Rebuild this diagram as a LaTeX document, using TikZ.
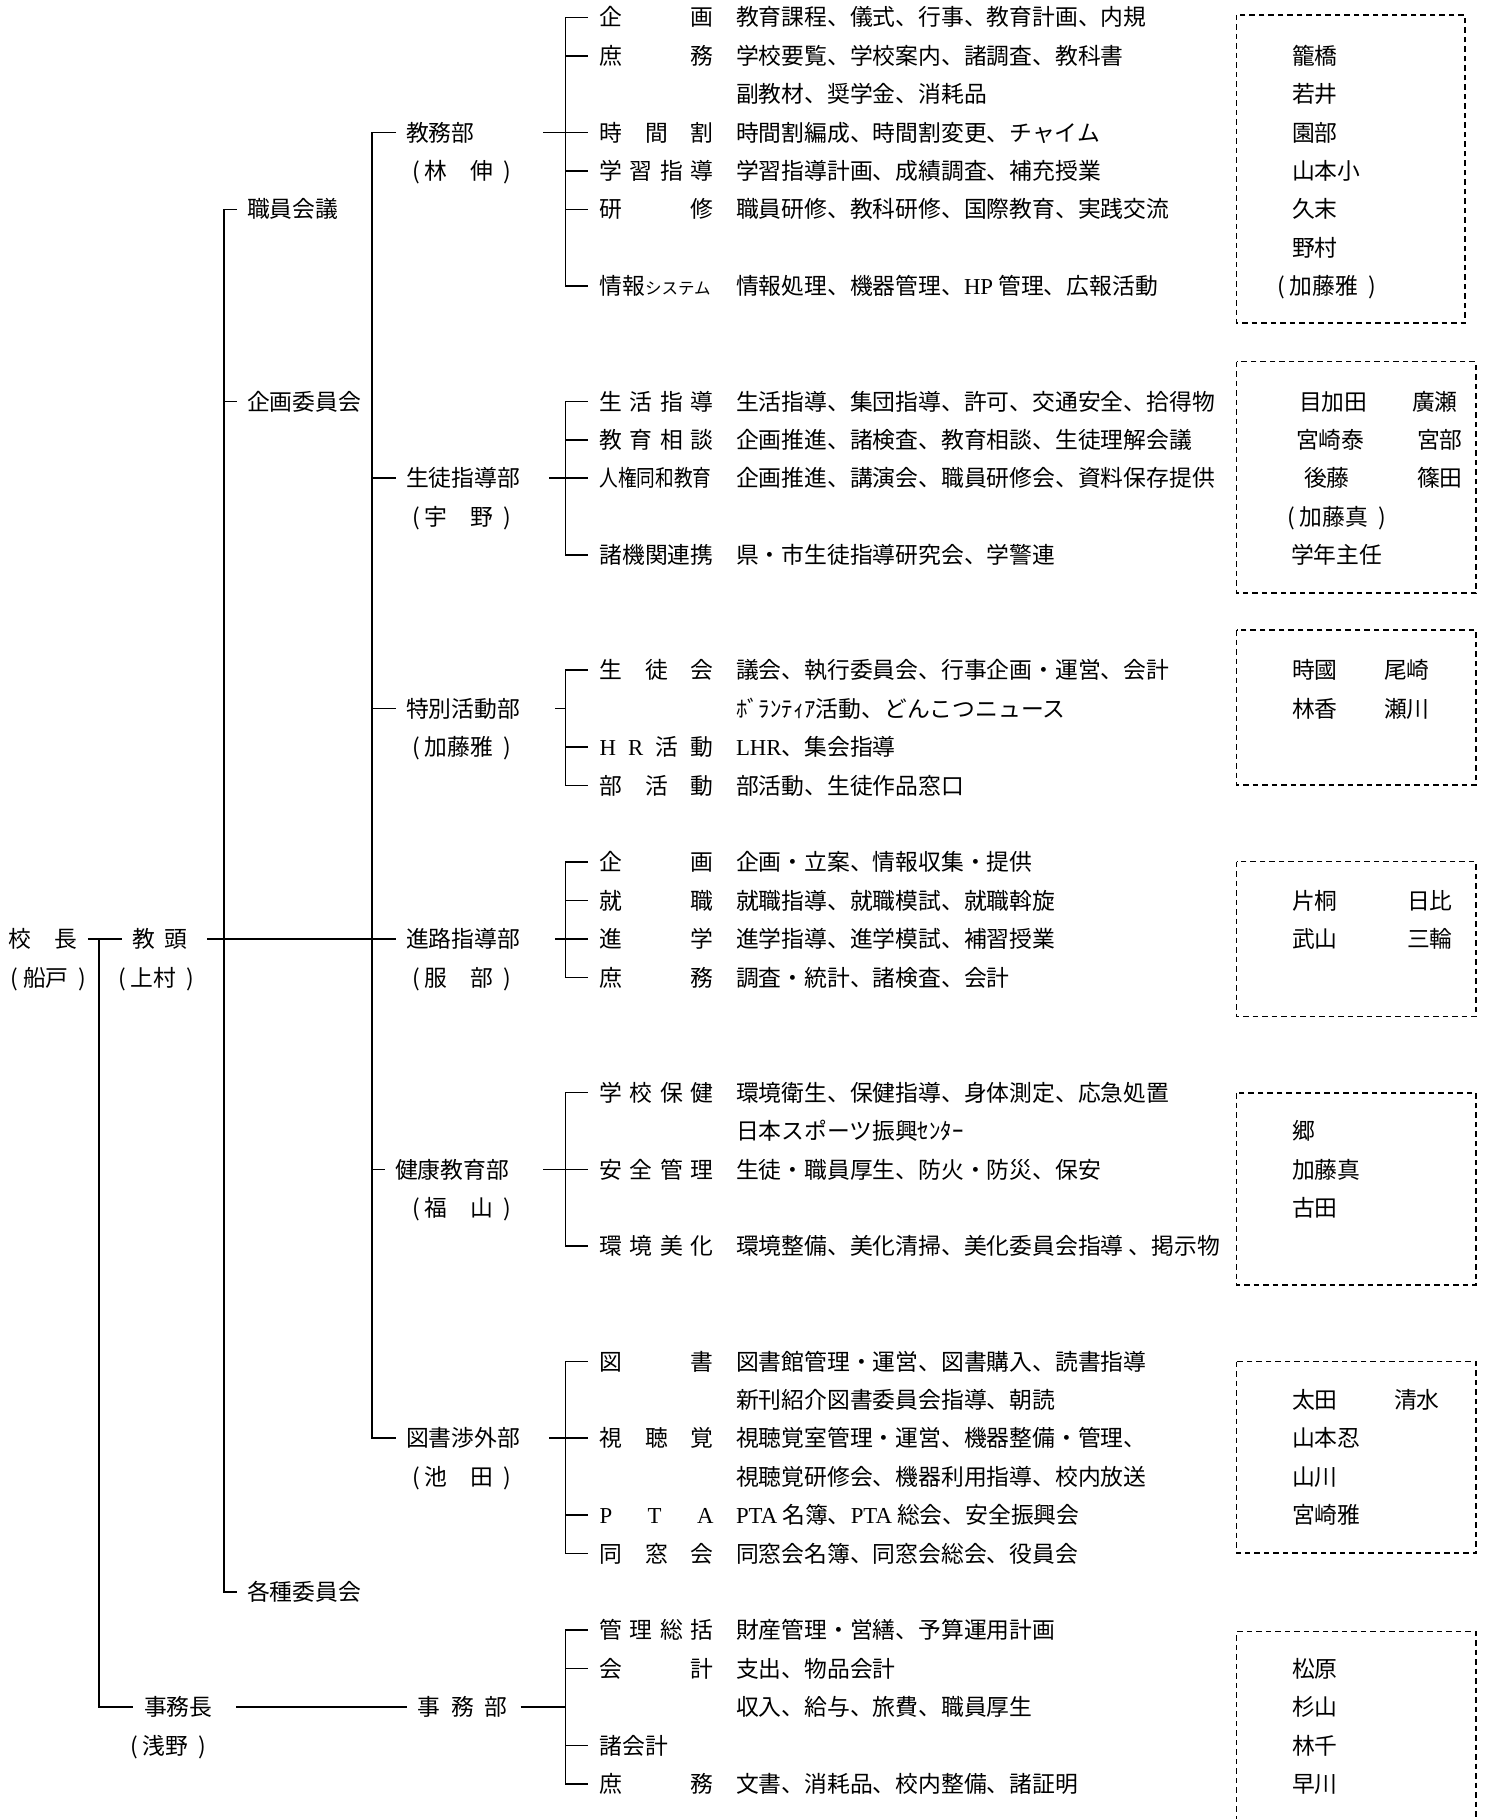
\documentclass[tikz,border=0pt]{standalone}
\usepackage{fontspec}
\usepackage{graphicx}
\setmainfont{Noto Sans CJK JP}
\newfontfamily\lat{Liberation Serif}
\newcommand\Y[1]{17.4+38.4*#1}
\newcommand\pr[1]{(\kern5pt#1\kern10pt)}
\newcommand\spr[2]{\makebox[#1pt][s]{#2}}
\begin{document}
\begin{tikzpicture}[x=1pt,y=-1pt,
  font=\fontsize{22.8}{26}\selectfont,
  every node/.style={inner sep=0pt,outer sep=0pt,anchor=west,text height=20pt,text depth=2.8pt},
  conn/.style={line width=1.7pt},
  dbox/.style={line width=1.5pt,dash pattern=on 5.5pt off 4pt}]
\useasboundingbox (0,0) rectangle (1487,1819);
\fill[white] (0,0) rectangle (1487,1819);

% ---- top levels
\node (kocho) at (8.5,{\Y{24}}) {校　長};
\node (kochop) at (10.5,{\Y{25}}) {\pr{船戸}};
\node (kyoto) at (132,{\Y{24}}) {\spr{55}{教\hfill 頭}};
\node (kyotop) at (118,{\Y{25}}) {\pr{上村}};
\node (jimucho) at (144,{\Y{44}}) {事務長};
\node (jimuchop) at (130,{\Y{45}}) {\pr{浅野}};
\node (shokuin) at (247,{\Y{5}}) {職員会議};
\node (kikaku) at (247,{\Y{10}}) {企画委員会};
\node (kakushu) at (247,{\Y{41}}) {各種委員会};

\node (d1) at (406,{\Y{3}}) {教務部};
\node (d1p) at (412,{\Y{4}}) {\pr{林　伸}};
\node (d2) at (406,{\Y{12}}) {生徒指導部};
\node (d2p) at (412,{\Y{13}}) {\pr{宇　野}};
\node (d3) at (406,{\Y{18}}) {特別活動部};
\node (d3p) at (412,{\Y{19}}) {\pr{加藤雅}};
\node (d4) at (406,{\Y{24}}) {進路指導部};
\node (d4p) at (412,{\Y{25}}) {\pr{服　部}};
\node (d5) at (395,{\Y{30}}) {健康教育部};
\node (d5p) at (412,{\Y{31}}) {\pr{福　山}};
\node (d6) at (406,{\Y{37}}) {図書渉外部};
\node (d6p) at (412,{\Y{38}}) {\pr{池　田}};
\node (jimubu) at (417.7,{\Y{44}}) {\spr{90}{事\hfill 務\hfill 部}};

% ---- sub labels
\node (s00) at (599.5,{\Y{0}}) {\spr{114}{企\hfill 画}};
\node (s01) at (599.5,{\Y{1}}) {\spr{114}{庶\hfill 務}};
\node (s03) at (599.5,{\Y{3}}) {\spr{114}{時\hfill 間\hfill 割}};
\node (s04) at (599.5,{\Y{4}}) {\spr{114}{学\hfill 習\hfill 指\hfill 導}};
\node (s05) at (599.5,{\Y{5}}) {\spr{114}{研\hfill 修}};
\node (s07) at (599.5,{\Y{7}}) {情報{\fontsize{16.5}{18}\selectfont システム}};

\node (s10) at (599.5,{\Y{10}}) {\spr{114}{生\hfill 活\hfill 指\hfill 導}};
\node (s11) at (599.5,{\Y{11}}) {\spr{114}{教\hfill 育\hfill 相\hfill 談}};
\node (s12) at (599.5,{\Y{12}}) {\scalebox{0.82}[1]{人権同和教育}};
\node (s14) at (599.5,{\Y{14}}) {諸機関連携};

\node (s17) at (599.5,{\Y{17}}) {\spr{114}{生\hfill 徒\hfill 会}};
\node (s19) at (599.5,{\Y{19}}) {\spr{114}{{\lat H}\hfill{\lat R}\hfill 活\hfill 動}};
\node (s20) at (599.5,{\Y{20}}) {\spr{114}{部\hfill 活\hfill 動}};

\node (s22) at (599.5,{\Y{22}}) {\spr{114}{企\hfill 画}};
\node (s23) at (599.5,{\Y{23}}) {\spr{114}{就\hfill 職}};
\node (s24) at (599.5,{\Y{24}}) {\spr{114}{進\hfill 学}};
\node (s25) at (599.5,{\Y{25}}) {\spr{114}{庶\hfill 務}};

\node (s28) at (599.5,{\Y{28}}) {\spr{114}{学\hfill 校\hfill 保\hfill 健}};
\node (s30) at (599.5,{\Y{30}}) {\spr{114}{安\hfill 全\hfill 管\hfill 理}};
\node (s32) at (599.5,{\Y{32}}) {\spr{114}{環\hfill 境\hfill 美\hfill 化}};

\node (s35) at (599.5,{\Y{35}}) {\spr{114}{図\hfill 書}};
\node (s37) at (599.5,{\Y{37}}) {\spr{114}{視\hfill 聴\hfill 覚}};
\node (s39) at (599.5,{\Y{39}}) {\spr{114}{\lat P\hfill T\hfill A}};
\node (s40) at (599.5,{\Y{40}}) {\spr{114}{同\hfill 窓\hfill 会}};

\node (s42) at (599.5,{\Y{42}}) {\spr{114}{管\hfill 理\hfill 総\hfill 括}};
\node (s43) at (599.5,{\Y{43}}) {\spr{114}{会\hfill 計}};
\node (s45) at (599.5,{\Y{45}}) {諸会計};
\node (s46) at (599.5,{\Y{46}}) {\spr{114}{庶\hfill 務}};

% ---- descriptions
\node (t00) at (736,{\Y{0}}) {教育課程、儀式、行事、教育計画、内規};
\node (t01) at (736,{\Y{1}}) {学校要覧、学校案内、諸調査、教科書};
\node (t02) at (736,{\Y{2}}) {副教材、奨学金、消耗品};
\node (t03) at (736,{\Y{3}}) {時間割編成、時間割変更、チャイム};
\node (t04) at (736,{\Y{4}}) {学習指導計画、成績調査、補充授業};
\node (t05) at (736,{\Y{5}}) {職員研修、教科研修、国際教育、実践交流};
\node (t07) at (736,{\Y{7}}) {情報処理、機器管理、{\lat HP} 管理、広報活動};
\node (t10) at (736,{\Y{10}}) {生活指導、集団指導、許可、交通安全、拾得物};
\node (t11) at (736,{\Y{11}}) {企画推進、諸検査、教育相談、生徒理解会議};
\node (t12) at (736,{\Y{12}}) {企画推進、講演会、職員研修会、資料保存提供};
\node (t14) at (736,{\Y{14}}) {県・市生徒指導研究会、学警連};
\node (t17) at (736,{\Y{17}}) {議会、執行委員会、行事企画・運営、会計};
\node (t18) at (736,{\Y{18}}) {ﾎﾞﾗﾝﾃｨｱ活動、どんこつニュース};
\node (t19) at (736,{\Y{19}}) {{\lat LHR}、集会指導};
\node (t20) at (736,{\Y{20}}) {部活動、生徒作品窓口};
\node (t22) at (736,{\Y{22}}) {企画・立案、情報収集・提供};
\node (t23) at (736,{\Y{23}}) {就職指導、就職模試、就職斡旋};
\node (t24) at (736,{\Y{24}}) {進学指導、進学模試、補習授業};
\node (t25) at (736,{\Y{25}}) {調査・統計、諸検査、会計};
\node (t28) at (736,{\Y{28}}) {環境衛生、保健指導、身体測定、応急処置};
\node (t29) at (736,{\Y{29}}) {日本スポーツ振興ｾﾝﾀｰ};
\node (t30) at (736,{\Y{30}}) {生徒・職員厚生、防火・防災、保安};
\node (t32) at (736,{\Y{32}}) {環境整備、美化清掃、美化委員会指導 、掲示物};
\node (t35) at (736,{\Y{35}}) {図書館管理・運営、図書購入、読書指導};
\node (t36) at (736,{\Y{36}}) {新刊紹介図書委員会指導、朝読};
\node (t37) at (736,{\Y{37}}) {視聴覚室管理・運営、機器整備・管理、};
\node (t38) at (736,{\Y{38}}) {視聴覚研修会、機器利用指導、校内放送};
\node (t39) at (736,{\Y{39}}) {{\lat PTA} 名簿、{\lat PTA} 総会、安全振興会};
\node (t40) at (736,{\Y{40}}) {同窓会名簿、同窓会総会、役員会};
\node (t42) at (736,{\Y{42}}) {財産管理・営繕、予算運用計画};
\node (t43) at (736,{\Y{43}}) {支出、物品会計};
\node (t44) at (736,{\Y{44}}) {収入、給与、旅費、職員厚生};
\node (t46) at (736,{\Y{46}}) {文書、消耗品、校内整備、諸証明};

% ---- staff boxes
\draw[dbox] (1236.7,15) rectangle (1465,323);
\draw[dbox] (1236.7,361.7) rectangle (1476,593);
\draw[dbox] (1236.7,630) rectangle (1476,785);
\draw[dbox] (1236.7,861.7) rectangle (1476,1016.7);
\draw[dbox] (1236.7,1093) rectangle (1476,1285);
\draw[dbox] (1236.7,1361.7) rectangle (1476,1553);
\draw[dbox] (1236.7,1840) -- (1236.7,1631.7) -- (1476,1631.7) -- (1476,1840);

\node (m01) at (1292,{\Y{1}}) {籠橋};
\node (m02) at (1292,{\Y{2}}) {若井};
\node (m03) at (1292,{\Y{3}}) {園部};
\node (m04) at (1292,{\Y{4}}) {山本小};
\node (m05) at (1292,{\Y{5}}) {久末};
\node (m06) at (1292,{\Y{6}}) {野村};
\node (m07) at (1277,{\Y{7}}) {\pr{加藤雅}};

\node (m10) at (1299,{\Y{10}}) {目加田};
\node (n10) at (1412,{\Y{10}}) {廣瀬};
\node (m11) at (1296,{\Y{11}}) {宮崎泰};
\node (n11) at (1417,{\Y{11}}) {宮部};
\node (m12) at (1304,{\Y{12}}) {後藤};
\node (n12) at (1417,{\Y{12}}) {篠田};
\node (m13) at (1287,{\Y{13}}) {\pr{加藤真}};
\node (m14) at (1291,{\Y{14}}) {学年主任};

\node (m17) at (1292,{\Y{17}}) {時國};
\node (n17) at (1384,{\Y{17}}) {尾崎};
\node (m18) at (1292,{\Y{18}}) {林香};
\node (n18) at (1384,{\Y{18}}) {瀬川};

\node (m23) at (1292,{\Y{23}}) {片桐};
\node (n23) at (1407,{\Y{23}}) {日比};
\node (m24) at (1292,{\Y{24}}) {武山};
\node (n24) at (1407,{\Y{24}}) {三輪};

\node (m29) at (1292,{\Y{29}}) {郷};
\node (m30) at (1292,{\Y{30}}) {加藤真};
\node (m31) at (1292,{\Y{31}}) {古田};

\node (m36) at (1292,{\Y{36}}) {太田};
\node (n36) at (1394,{\Y{36}}) {清水};
\node (m37) at (1292,{\Y{37}}) {山本忍};
\node (m38) at (1292,{\Y{38}}) {山川};
\node (m39) at (1292,{\Y{39}}) {宮崎雅};

\node (m43) at (1292,{\Y{43}}) {松原};
\node (m44) at (1292,{\Y{44}}) {杉山};
\node (m45) at (1292,{\Y{45}}) {林千};
\node (m46) at (1292,{\Y{46}}) {早川};

% ---- bus coordinates
\coordinate (b0) at (99,0);
\coordinate (b1) at (224,0);
\coordinate (b2) at (372,0);
\coordinate (sb) at (565.5,0);

% ---- connectors: top
\draw[conn] ([xshift=11pt]kocho.east) -- ([xshift=-10pt]kyoto.west);
\draw[conn] (b0 |- kocho.east) -- (b0 |- jimucho.west) -- ([xshift=-11pt]jimucho.west);
\draw[conn] ([xshift=20pt]kyoto.east) -- ([xshift=-11pt]d4.west);
\draw[conn] ([xshift=-10pt]shokuin.west) -- (b1 |- shokuin.west) -- (b1 |- kakushu.west) -- ([xshift=-10pt]kakushu.west);
\draw[conn] (b1 |- kikaku.west) -- ([xshift=-10pt]kikaku.west);
\draw[conn] ([xshift=-10pt]d1.west) -- (b2 |- d1.west) -- (b2 |- d6.west) -- ([xshift=-10pt]d6.west);
\foreach \d in {d2,d3,d4,d5} \draw[conn] (b2 |- \d.west) -- ([xshift=-10pt]\d.west);
\draw[conn] ([xshift=24pt]jimucho.east) -- ([xshift=-11pt]jimubu.west);

% ---- connectors: departments to sub buses
\draw[conn] ([xshift=68.6pt]d1.east) -- ([xshift=-12pt]s03.west);
\draw[conn] ([xshift=29pt]d2.east) -- ([xshift=-12pt]s12.west);
\draw[conn] ([xshift=35pt]d3.east) -- (sb |- d3.east);
\draw[conn] ([xshift=35pt]d4.east) -- ([xshift=-12pt]s24.west);
\draw[conn] ([xshift=34pt]d5.east) -- ([xshift=-12pt]s30.west);
\draw[conn] ([xshift=29pt]d6.east) -- ([xshift=-12pt]s37.west);
\draw[conn] ([xshift=13pt]jimubu.east) -- (sb |- jimubu.east);

% ---- sub brackets
\newcommand\bracket[2]{\draw[conn] ([xshift=-12pt]#1.west) -- (sb |- #1.west) -- (sb |- #2.west) -- ([xshift=-12pt]#2.west);}
\newcommand\tick[1]{\draw[conn] (sb |- #1.west) -- ([xshift=-12pt]#1.west);}
\bracket{s00}{s07} \tick{s01} \tick{s04} \tick{s05}
\bracket{s10}{s14} \tick{s11}
\bracket{s17}{s20} \tick{s19}
\bracket{s22}{s25} \tick{s23}
\bracket{s28}{s32}
\bracket{s35}{s40} \tick{s39}
\bracket{s42}{s46} \tick{s43} \tick{s45}
\end{tikzpicture}
\end{document}
